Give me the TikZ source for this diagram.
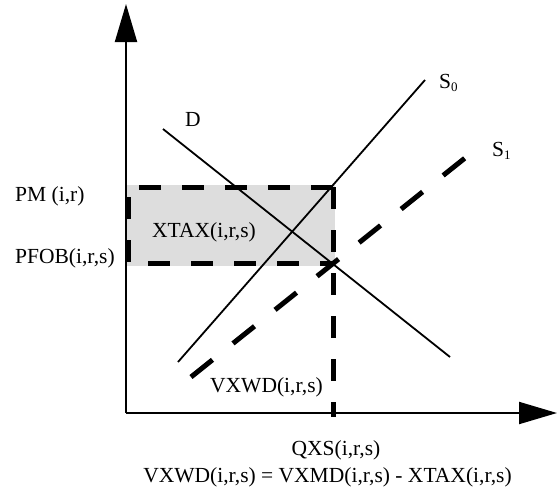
\documentclass[tikz,border=0pt]{standalone}
\usepackage{fontspec}
\setmainfont{Liberation Serif}
\usetikzlibrary{arrows.meta}
\tikzset{
  thinline/.style={line width=1.8pt},
  axisline/.style={line width=2pt,-{Triangle[length=38pt,width=22pt]}},
  thickdash/.style={line width=5pt,dash pattern=on 22pt off 21pt},
  supdash/.style={line width=5pt,dash pattern=on 27.5pt off 26.3pt},
  lbl/.style={inner sep=0pt,anchor=base west,font=\fontsize{21.5}{24}\selectfont},
  lblc/.style={inner sep=0pt,anchor=base,font=\fontsize{21.5}{24}\selectfont},
}
\newcommand{\subdigit}[1]{\raisebox{-0.35ex}{\fontsize{13}{13}\selectfont #1}}
\begin{document}
\begin{tikzpicture}[x=1pt,y=-1pt]
\useasboundingbox (0,0) rectangle (557,493);
% shaded area
\fill[fill={rgb,255:red,221;green,221;blue,221}] (127,185) rectangle (335,266);
% axes
\coordinate (O) at (126,413);
\coordinate (ytop) at (126,4);
\coordinate (xend) at (557,413);
\draw[axisline] (O) -- (ytop);
\draw[axisline] (O) -- (xend);
% demand D
\coordinate (d1) at (163,129);
\coordinate (d2) at (450,357);
\draw[thinline] (d1) -- (d2);
% supply S0
\coordinate (s01) at (178,362);
\coordinate (s02) at (425,80);
\draw[thinline] (s01) -- (s02);
% supply S1 dashed
\coordinate (s11) at (191,377);
\coordinate (s12) at (465,158);
\draw[supdash] (s11) -- (s12);
% dashed rectangle
\coordinate (r1) at (333,187);
\coordinate (r2) at (128,187);
\coordinate (r3) at (128,263);
\coordinate (r4) at (333,263);
\coordinate (qb) at (333,417);
\draw[thickdash] (r1) -- (r2) -- (r3) -- (r4);
\draw[thickdash] (r1) -- (qb);
% labels
\node[lbl] (pm) at (15,201) {PM (i,r)};
\node[lbl] (pfob) at (15,263) {PFOB(i,r,s)};
\node[lbl] (xtax) at (152,237) {XTAX(i,r,s)};
\node[lbl] (vxwd) at (210,392) {VXWD(i,r,s)};
\node[lblc] (qxs) at (336,455) {QXS(i,r,s)};
\node[lblc] (eq) at (327.5,482) {VXWD(i,r,s) = VXMD(i,r,s) - XTAX(i,r,s)};
\node[lbl] (dl) at (185,126) {D};
\node[lbl] (s0l) at (439,88) {S\subdigit{0}};
\node[lbl] (s1l) at (492,156) {S\subdigit{1}};
\end{tikzpicture}
\end{document}
